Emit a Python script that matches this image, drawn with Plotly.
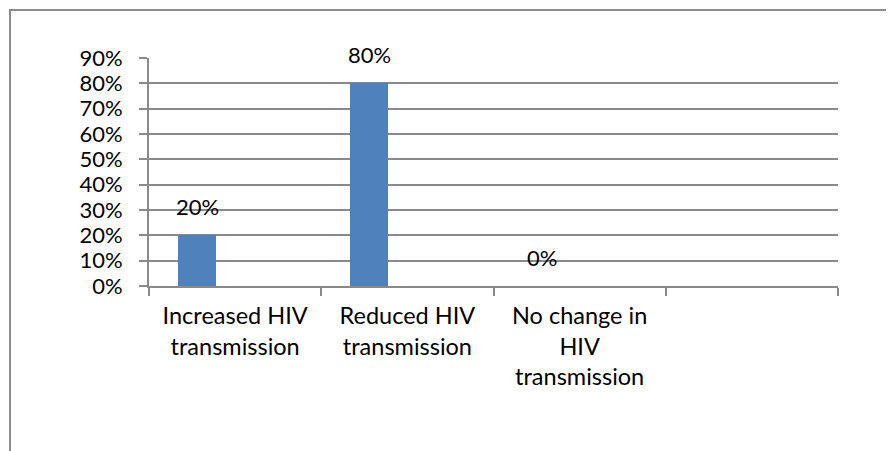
import plotly.graph_objects as go

categories = ["Increased HIV<br>transmission", "Reduced HIV<br>transmission",
              "No change in<br>HIV<br>transmission", " "]
values = [0.20, 0.80, 0.00, None]
value_labels = ["20%", "80%", "0%", ""]
y_ticks = [0, 0.1, 0.2, 0.3, 0.4, 0.5, 0.6, 0.7, 0.8, 0.9]
y_tick_labels = ["0%", "10%", "20%", "30%", "40%", "50%", "60%", "70%", "80%", "90%"]

FONT = "Lato, Calibri, Carlito, sans-serif"
GRID = "#8a8a8a"
BAR_W = 0.221
BAR_OFF = -0.331

# figure size accounts for the 8px default body margin of the page
W, H = 886, 443
ML, MR, MT, MB = 141, 56, 50, 165
PW, PH = W - ML - MR, H - MT - MB

fig = go.Figure()
fig.add_trace(go.Bar(
    x=categories, y=values, width=BAR_W, offset=BAR_OFF,
    marker=dict(color="#4F81BD", line=dict(width=0)),
    hoverinfo="skip", showlegend=False,
))

annotations = []
for i, (v, t) in enumerate(zip(values, value_labels)):
    if v is None or not t:
        continue
    annotations.append(dict(
        x=i + BAR_OFF + BAR_W / 2, y=v, xref="x", yref="y",
        text=t, showarrow=False, yanchor="bottom", yshift=13,
        font=dict(family=FONT, size=22, color="#000000"),
    ))

fig.update_layout(
    width=W, height=H,
    margin=dict(l=ML, r=MR, t=MT, b=MB, pad=0),
    paper_bgcolor="white", plot_bgcolor="white",
    font=dict(family=FONT, size=22, color="#000000"),
    annotations=annotations,
    shapes=[dict(type="rect", xref="paper", yref="paper",
                 x0=(2 - ML) / PW, x1=(W + 20 - ML) / PW,
                 y0=-(H + 20 - (MT + PH)) / PH, y1=1 + (MT - 2) / PH,
                 line=dict(color="#8c8c8c", width=2), layer="below")],
    bargap=0,
)
fig.update_xaxes(
    type="category", categoryorder="array", categoryarray=categories,
    range=[-0.5, len(categories) - 0.5],
    tickson="boundaries", ticks="outside", ticklen=8, tickcolor=GRID, tickwidth=2,
    showline=True, linecolor=GRID, linewidth=2,
    showgrid=False, zeroline=False,
    tickfont=dict(family=FONT, size=23.5, color="#000000"),
    ticklabelstandoff=8, fixedrange=True,
)
fig.update_yaxes(
    range=[0, 0.9],
    tickmode="array", tickvals=y_ticks, ticktext=y_tick_labels,
    ticks="outside", ticklen=8, tickcolor=GRID, tickwidth=2,
    showline=True, linecolor=GRID, linewidth=2,
    showgrid=True, gridcolor=GRID, gridwidth=2,
    zeroline=False,
    tickfont=dict(family=FONT, size=22, color="#000000"),
    ticklabelstandoff=12, fixedrange=True,
)

fig.write_html("out.html", config={"displayModeBar": False})
